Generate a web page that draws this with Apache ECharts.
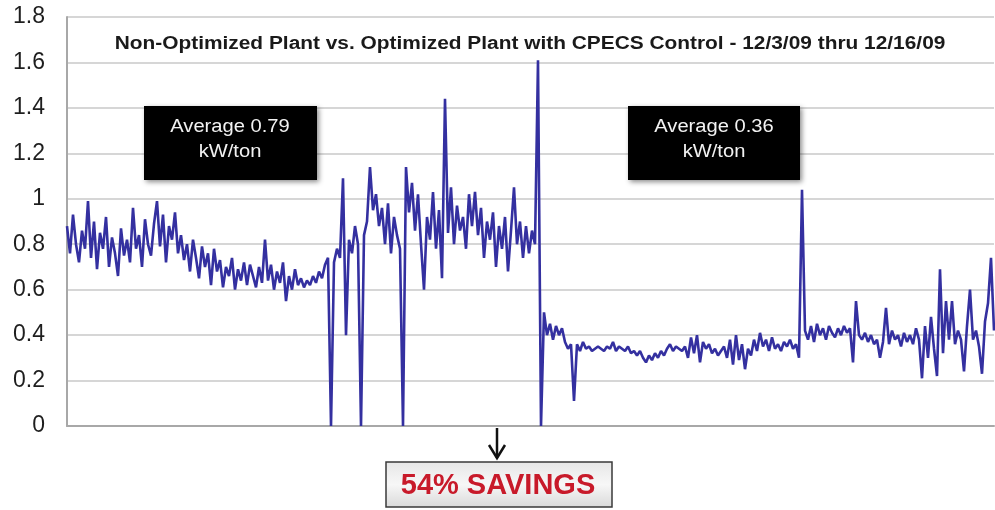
<!DOCTYPE html>
<html>
<head>
<meta charset="utf-8">
<title>kW/ton</title>
<script src="https://cdn.jsdelivr.net/npm/echarts@6/dist/echarts.min.js"></script>
<style>
  html, body { margin: 0; padding: 0; background: #fff; }
  #chart { width: 995px; height: 510px; }
</style>
</head>
<body>
<div id="chart"></div>
<script>
// kW/ton readings, non-optimized plant (12/3 - ~12/9)
const nonOptimized = [
  0.88, 0.76, 0.93, 0.80, 0.72, 0.86, 0.78, 0.99, 0.74, 0.90,
  0.69, 0.85, 0.78, 0.92, 0.70, 0.83, 0.76, 0.66, 0.87, 0.75,
  0.82, 0.72, 0.96, 0.78, 0.84, 0.70, 0.91, 0.80, 0.75, 0.89,
  0.99, 0.79, 0.93, 0.72, 0.88, 0.82, 0.94, 0.76, 0.84, 0.73,
  0.80, 0.68, 0.82, 0.74, 0.65, 0.79, 0.70, 0.76, 0.62, 0.78,
  0.68, 0.73, 0.61, 0.70, 0.66, 0.74, 0.60, 0.69, 0.64, 0.72,
  0.62, 0.71, 0.66, 0.61, 0.70, 0.63, 0.82, 0.64, 0.71, 0.60,
  0.68, 0.63, 0.72, 0.55, 0.66, 0.60, 0.69, 0.62, 0.65, 0.61,
  0.64, 0.62, 0.66, 0.63, 0.68, 0.65, 0.71, 0.74, 0, 0.72,
  0.78, 0.74, 1.09, 0.40, 0.82, 0.76, 0.88, 0.80, 0, 0.84,
  0.90, 1.14, 0.95, 1.02, 0.88, 0.96, 0.80, 0.98, 0.76, 0.92,
  0.84, 0.78, 0, 1.14, 0.94, 1.07, 0.86, 1.02, 0.80, 0.60,
  0.92, 0.82, 1.03, 0.78, 0.95, 0.65, 1.44, 0.85, 1.05, 0.80,
  0.97, 0.86, 0.92, 0.78, 1.02, 0.88, 1.03, 0.84, 0.96, 0.74,
  0.90, 0.82, 0.94, 0.70, 0.88, 0.78, 0.92, 0.68, 0.86, 1.05,
  0.80, 0.90, 0.74, 0.88, 0.76, 0.86, 0.80, 1.61
]
// kW/ton readings, optimized plant with CPECS control (~12/9 - 12/16)
const optimized = [
  0, 0.50, 0.40, 0.45, 0.38, 0.44, 0.40, 0.43, 0.37, 0.34,
  0.36, 0.11, 0.36, 0.33, 0.37, 0.34, 0.35, 0.33, 0.34, 0.35,
  0.34, 0.33, 0.35, 0.34, 0.37, 0.33, 0.35, 0.34, 0.33, 0.35,
  0.32, 0.33, 0.31, 0.33, 0.30, 0.28, 0.31, 0.29, 0.32, 0.30,
  0.33, 0.31, 0.34, 0.36, 0.33, 0.35, 0.34, 0.33, 0.35, 0.30,
  0.39, 0.32, 0.40, 0.28, 0.37, 0.34, 0.36, 0.32, 0.34, 0.31,
  0.33, 0.35, 0.30, 0.38, 0.27, 0.40, 0.29, 0.36, 0.25, 0.34,
  0.31, 0.38, 0.33, 0.41, 0.35, 0.38, 0.33, 0.39, 0.34, 0.36,
  0.33, 0.37, 0.35, 0.38, 0.34, 0.36, 0.30, 1.04, 0.42, 0.38,
  0.44, 0.37, 0.45, 0.40, 0.43, 0.38, 0.44, 0.41, 0.39, 0.43,
  0.40, 0.44, 0.41, 0.43, 0.28, 0.55, 0.40, 0.38, 0.41, 0.37,
  0.40, 0.36, 0.38, 0.30, 0.37, 0.52, 0.36, 0.42, 0.38, 0.40,
  0.35, 0.41, 0.37, 0.40, 0.36, 0.43, 0.38, 0.21, 0.44, 0.30,
  0.48, 0.34, 0.22, 0.69, 0.32, 0.55, 0.38, 0.55, 0.36, 0.42,
  0.38, 0.24, 0.44, 0.60, 0.38, 0.42, 0.35, 0.23, 0.46, 0.54,
  0.74, 0.42
]
const kwPerTon = nonOptimized.concat(optimized)

const chartTitle = 'Non-Optimized Plant vs. Optimized Plant with CPECS Control - 12/3/09 thru 12/16/09'
const avgBefore = ['Average 0.79', 'kW/ton']
const avgAfter = ['Average 0.36', 'kW/ton']
const savingsText = '54% SAVINGS'

const myChart = echarts.init(document.getElementById('chart'))
const FONT = '"Liberation Sans", Arial, sans-serif'

const textEl = (x, y, text, font, fill, scaleX) => ({
  type: 'text',
  x: x,
  y: y,
  scaleX: scaleX || 1,
  z: 100,
  style: { text: text, font: font, fill: fill, textAlign: 'center', textVerticalAlign: 'middle' }
})

myChart.setOption({
  animation: false,
  backgroundColor: '#fff',
  grid: { left: 67, right: 1, top: 17, bottom: 84 },
  xAxis: {
    type: 'value',
    min: 0,
    max: kwPerTon.length - 1,
    axisLine: { show: true, lineStyle: { color: '#a8a8a8', width: 2 } },
    axisTick: { show: false },
    axisLabel: { show: false },
    splitLine: { show: false }
  },
  yAxis: {
    type: 'value',
    min: 0,
    max: 1.8,
    interval: 0.2,
    axisLine: { show: true, lineStyle: { color: '#a8a8a8', width: 2 } },
    axisTick: { show: false },
    axisLabel: {
      fontSize: 23,
      fontFamily: FONT,
      color: '#1e1e1e',
      margin: 22,
      formatter: (v) => String(+v.toFixed(1))
    },
    splitLine: { lineStyle: { color: '#d6d6d6', width: 2 } }
  },
  series: [{
    type: 'line',
    data: kwPerTon.map((v, i) => [i, v]),
    showSymbol: false,
    lineStyle: { color: '#3430a0', width: 2.6 }
  }],
  graphic: [
    textEl(530, 44, chartTitle, 'bold 18px ' + FONT, '#1a1a1a', 1.16),
    {
      type: 'rect',
      shape: { x: 144, y: 106, width: 173, height: 74 },
      style: { fill: '#000', shadowBlur: 5, shadowColor: 'rgba(0,0,0,0.45)', shadowOffsetX: 2, shadowOffsetY: 2 },
      z: 90
    },
    textEl(230, 127, avgBefore[0], '18px ' + FONT, '#f2f2f2', 1.12),
    textEl(230, 152, avgBefore[1], '18px ' + FONT, '#f2f2f2', 1.12),
    {
      type: 'rect',
      shape: { x: 628, y: 106, width: 172, height: 74 },
      style: { fill: '#000', shadowBlur: 5, shadowColor: 'rgba(0,0,0,0.45)', shadowOffsetX: 2, shadowOffsetY: 2 },
      z: 90
    },
    textEl(714, 127, avgAfter[0], '18px ' + FONT, '#f2f2f2', 1.12),
    textEl(714, 152, avgAfter[1], '18px ' + FONT, '#f2f2f2', 1.12),
    // arrow down to the savings box
    {
      type: 'polyline',
      shape: { points: [[497, 428], [497, 458]] },
      style: { stroke: '#111', lineWidth: 2.5 },
      z: 90
    },
    {
      type: 'polyline',
      shape: { points: [[489, 445], [497, 458], [505, 445]] },
      style: { stroke: '#111', lineWidth: 2.5, fill: null },
      z: 90
    },
    {
      type: 'rect',
      shape: { x: 386, y: 462, width: 226, height: 45 },
      style: {
        fill: new echarts.graphic.LinearGradient(0, 0, 0, 1, [
          { offset: 0, color: '#e6e6e6' },
          { offset: 0.5, color: '#f7f7f7' },
          { offset: 1, color: '#d9d9d9' }
        ]),
        stroke: '#3a3a3a',
        lineWidth: 1.5
      },
      z: 90
    },
    textEl(498, 486, savingsText, 'bold 29px ' + FONT, '#c81a2a', 1.0)
  ]
})
window.onresize = myChart.resize
</script>
</body>
</html>
